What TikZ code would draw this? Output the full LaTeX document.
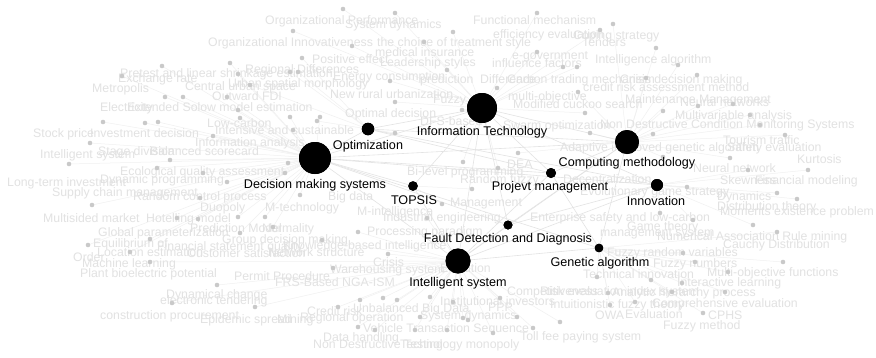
\documentclass[tikz,border=0pt]{standalone}
\usepackage{fontspec}
\setmainfont{Liberation Sans}
\begin{document}
\begin{tikzpicture}[x=1pt,y=-1pt,
  hub/.style={circle,fill=black,inner sep=0pt},
  hublabel/.style={font=\fontsize{12.6}{14}\selectfont,text=black,inner sep=0pt},
  term/.style={font=\fontsize{12.3}{14}\selectfont,text=gray!23,inner sep=0pt,anchor=west,text height=9pt,text depth=2.5pt},
  gdot/.style={circle,fill=gray!42,inner sep=0pt,minimum size=4.6pt},
  faint/.style={draw=gray!12,line width=0.5pt},
  link/.style={draw=gray!22,line width=0.6pt}]
\useasboundingbox[fill=white] (0,0) rectangle (876,357);

% main hubs
\node[hub,minimum size=30pt] (it)   at (482,108) {};
\node[hub,minimum size=12.5pt] (opt) at (368,129) {};
\node[hub,minimum size=32pt] (dms)  at (315,158) {};
\node[hub,minimum size=24pt] (cm)   at (627,142) {};
\node[hub,minimum size=9.5pt] (tops) at (413,186) {};
\node[hub,minimum size=10pt] (pm)   at (551,173) {};
\node[hub,minimum size=12pt] (inn)  at (657,185) {};
\node[hub,minimum size=9pt] (fd)    at (508,225) {};
\node[hub,minimum size=8.6pt] (ga)  at (599,248) {};
\node[hub,minimum size=25pt] (is)   at (458,261) {};

% small terms: position and the hub each one is tied to
\def\dotlist{
 293/31/it, 343/9/it, 395/13/it, 453/32/it, 537/13/it, 352/46/it, 424/42/it, 537/52/it,
 302/58/opt, 447/70/it, 563/67/it, 290/72/opt, 390/81/it, 497/88/it, 395/102/it, 320/117/dms, 462/110/it,
 613/24/cm, 600/30/it, 656/48/cm, 577/67/it, 678/65/cm, 697/75/cm, 646/78/cm, 578/92/cm, 698/106/cm,
 733/104/cm, 585/113/it, 663/111/cm, 750/115/cm,
 162/66/dms, 230/63/dms, 122/76/dms, 238/74/dms, 298/72/opt, 183/97/dms, 165/97/dms, 227/97/dms,
 250/85/opt, 238/110/dms, 290/117/dms, 317/121/opt, 158/122/dms, 240/118/dms, 293/130/dms, 213/136/dms,
 103/122/dms, 145/123/dms, 90/143/dms, 170/160/dms, 69/164/dms, 288/163/dms, 157/168/dms, 203/173/dms,
 285/173/dms, 227/182/dms, 92/205/dms, 200/198/dms, 265/217/dms, 198/219/dms, 177/218/dms, 238/217/dms, 273/227/dms,
 395/133/opt, 463/162/it, 498/168/it, 472/189/tops, 442/204/tops, 427/218/is, 358/232/is, 300/195/dms, 518/153/cm,
 653/134/cm, 760/125/cm, 785/135/cm, 730/158/cm, 808/170/inn, 748/170/inn, 687/187/inn, 777/193/inn,
 797/199/inn, 660/213/inn, 693/220/inn, 753/225/inn, 777/232/ga, 590/133/cm, 663/157/cm,
 88/245/dms, 150/239/dms, 130/252/dms, 150/262/is, 217/285/is, 172/303/is, 255/307/is, 240/233/dms,
 322/240/is, 388/254/is, 333/268/is, 360/300/is, 383/298/is, 397/300/is, 430/297/is, 453/302/is,
 500/298/is, 517/317/is, 463/318/is, 468/320/is, 420/317/is, 358/327/is, 375/330/is, 415/330/is,
 447/330/is, 493/333/is, 533/328/is, 560/322/is, 338/307/is,
 683/253/ga, 695/262/ga, 783/262/ga, 651/280/ga, 597/277/ga, 682/283/ga, 728/272/ga, 725/292/ga,
 608/293/ga, 672/292/ga, 610/305/ga, 635/302/ga, 703/313/ga}

\foreach \x/\y/\m [count=\i] in \dotlist {
  \coordinate (p\i) at (\x,\y);
  \path[faint] (\m) -- (p\i);
}

% links between hubs
\foreach \a/\b in {it/opt, it/dms, it/cm, it/pm, it/inn, it/is, it/tops, dms/opt, dms/cm, dms/inn,
  dms/pm, dms/tops, dms/is, dms/fd, opt/cm, opt/inn, cm/is, cm/fd, inn/is, inn/fd, is/ga, fd/is,
  pm/is, tops/is, cm/pm, cm/ga, opt/pm, it/fd, dms/ga, pm/ga}
  \path[link] (\a) -- (\b);

% gray term labels
\foreach \x/\y/\t in {
 265/21/Organizational Performance, 345/25/System dynamics, 473/21/Functional mechanism,
 493/35/efficiency evaluation, 573/36/Coping strategy, 582/43/Tenders,
 208/43/Organizational Innovativeness, 377/43/the choice of treatment style, 375/53/medical insurance,
 312/60/Positive effect, 380/63/Leadership styles, 512/56/e-government, 492/64/influence factors,
 595/60/Intelligence algorithm, 120/74/Pretest and linear shrinkage estimation, 118/79/Exchange rate,
 245/70/Regional Differences, 92/89/Metropolis, 185/87/Central urban space, 228/84/Urban spatial morphology,
 333/77/Energy consumption, 420/80/prediction, 480/80/Difference, 507/80/Carbon trading mechanism,
 620/80/Crisis decision making, 583/88/credit risk assessment method, 212/97/Outward FDI,
 330/95/New rural urbanization, 433/100/Fuzzy, 508/97/multi-objective, 513/105/Modified cuckoo search,
 625/100/Maintenance Management, 680/103/Neural networks, 100/108/Electricity,
 127/108/Extended Solow model estimation, 345/114/Optimal decision, 420/122/DFS-based,
 207/124/Low-carbon, 215/131/Intensive and sustainable, 33/134/Stock price, 90/134/Investment decision,
 195/143/Information analysis, 40/155/Intelligent system, 98/152/Stage division, 150/152/Balanced scorecard,
 120/172/Ecological quality assessment, 7/183/Long-term investment, 100/180/Dynamic programming,
 52/193/Supply chain management, 133/197/Random control process, 200/208/Duopoly, 265/208/M-technology,
 328/197/Big data, 43/219/Multisided market, 146/219/Hotelling model, 190/229/Prediction Model,
 262/229/Normality, 98/233/Global parameterization, 93/244/Equilibrium of, 157/247/Financial statement quality,
 222/240/Group decision making, 283/246/Knowledge-based intelligence, 97/253/Location estimation,
 187/254/Customer satisfaction, 268/253/Network structure, 73/258/Order, 82/264/Machine learning,
 80/274/Plant bioelectric potential, 234/277/Permit Procedure, 275/283/FRS-Based NGA-ISM,
 166/295/Dynamical change, 160/301/electronic tendering, 100/316/construction procurement,
 200/320/Epidemic spread, 277/320/Mining, 330/270/Warehousing system, 373/263/Crisis, 440/269/Evolution,
 507/292/Competitiveness, 440/302/Institutional investors, 488/308/PPP, 307/312/Credit risk,
 353/309/Unbalanced Big Data, 420/316/System dynamics, 300/318/Regional operation,
 363/329/Vehicle Transaction Sequence, 520/337/Toll fee paying system, 323/338/Data handling,
 313/345/Non Destructive Testing, 400/345/Technology monopoly, 407/172/Bi-level programming,
 460/180/Random fuzzy, 507/165/DEA, 563/180/Decentralization, 450/203/Management, 357/212/M-intelligence,
 383/218/Industrial engineering, 367/232/Processing paradigm, 503/126/Swarm optimization,
 530/218/Enterprise safety and low-carbon, 600/233/management system, 627/227/Game theory,
 580/192/Evolutionary game strategy, 717/197/Dynamics, 720/181/Skewness, 755/181/Financial modeling,
 693/169/Neural network, 717/207/Distribution theory, 720/212/Moments existence problem,
 657/237/Numerical Association Rule mining, 723/245/Cauchy Distribution, 607/253/Fuzzy random variables,
 653/264/Fuzzy numbers, 583/275/Technical innovation, 707/273/Multi-objective functions,
 677/283/Interactive learning, 612/293/Analytic hierarchy process, 540/292/Risk evaluation index system,
 550/305/Intuitionistic fuzzy theory, 652/304/Comprehensive evaluation, 595/316/OWA, 625/315/Evaluation,
 708/316/CPHS, 663/326/Fuzzy method, 675/116/Multivariable analysis,
 600/125/Non Destructive Condition Monitoring Systems, 723/141/Tourism traffic,
 560/148/Adaptive improved genetic algorithm, 727/148/Safety evaluation, 797/160/Kurtosis}
  \node[term] (t\x-\y) at (\x,\y) {\t};

% dots drawn over the term labels
\foreach \x/\y/\m [count=\i] in \dotlist
  \node[gdot] (q\i) at (p\i) {};

% hubs redrawn above everything, with their labels
\node[hub,minimum size=30pt] at (it) {};
\node[hub,minimum size=12.5pt] at (opt) {};
\node[hub,minimum size=32pt] at (dms) {};
\node[hub,minimum size=24pt] at (cm) {};
\node[hub,minimum size=9.5pt] at (tops) {};
\node[hub,minimum size=10pt] at (pm) {};
\node[hub,minimum size=12pt] at (inn) {};
\node[hub,minimum size=9pt] at (fd) {};
\node[hub,minimum size=8.6pt] at (ga) {};
\node[hub,minimum size=25pt] at (is) {};

\node[hublabel] (l-it)   at (482,132) {Information Technology};
\node[hublabel] (l-opt)  at (368,146) {Optimization};
\node[hublabel] (l-dms)  at (315,185) {Decision making systems};
\node[hublabel] (l-cm)   at (627,163) {Computing methodology};
\node[hublabel] (l-tops) at (414,200) {TOPSIS};
\node[hublabel] (l-pm)   at (550,187) {Projevt management};
\node[hublabel] (l-inn)  at (656,201) {Innovation};
\node[hublabel] (l-fd)   at (508,239) {Fault Detection and Diagnosis};
\node[hublabel] (l-ga)   at (600,263) {Genetic algorithm};
\node[hublabel] (l-is)   at (458,283) {Intelligent system};
\end{tikzpicture}
\end{document}
